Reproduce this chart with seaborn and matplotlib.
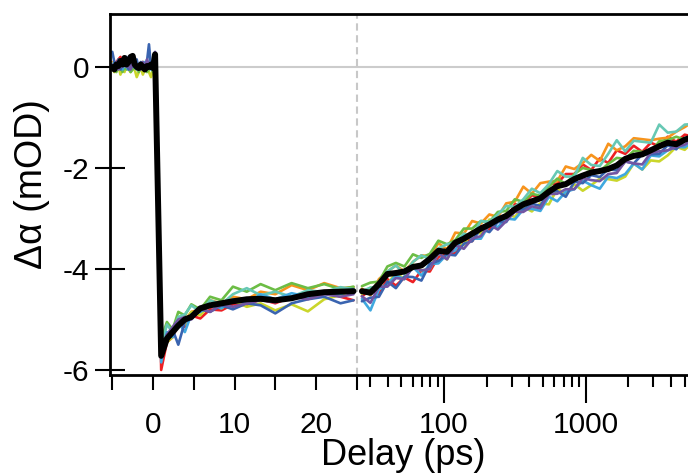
import numpy as np
import pandas as pd
import matplotlib
matplotlib.use("Agg")
import matplotlib.pyplot as plt
import seaborn as sns

# ---------------- data ----------------
t_pre = [-5.0, -4.75, -4.5, -4.25, -4.0, -3.75, -3.5, -3.25, -3.0, -2.75, -2.5,
         -2.25, -2.0, -1.75, -1.5, -1.25, -1.0, -0.75, -0.5, -0.25, 0.0, 0.25]
t_lin = [1.0, 1.7, 2.4, 3.1, 3.9, 4.7, 5.8, 7.0, 8.4, 9.8, 11.5, 13.2, 15.0,
         17.0, 19.0, 21.0, 23.0, 24.6]
t_log = [26.3, 30.2, 34.7, 39.8, 45.7, 52.5, 60.3, 69.2, 79.4, 91.2,
         105, 120, 138, 158, 182, 209, 240, 275, 316, 363,
         417, 479, 550, 631, 724, 832, 955, 1096, 1259, 1445,
         1660, 1905, 2188, 2512, 2884, 3311, 3802, 4365, 5012, 5754]

red = [0.05, 0.00, 0.10, 0.15, 0.20, 0.05, 0.10, 0.00, 0.05, 0.10, 0.00, -0.05, 0.05, 0.00, -0.05, 0.05, 0.00, -0.05, 0.05, 0.00, 0.05, 0.20,
       -6.00, -5.45, -5.35, -5.10, -5.15, -4.92, -4.98, -4.80, -4.82, -4.70, -4.72, -4.60, -4.68, -4.55, -4.58, -4.45, -4.55, -4.62,
       -4.54, -4.42, -4.50, -4.20, -4.33, -4.17, -4.26, -4.03, -4.05, -3.76,
       -3.71, -3.68, -3.40, -3.45, -3.15, -3.22, -2.97, -3.03, -2.72, -2.72,
       -2.54, -2.58, -2.32, -2.31, -2.12, -2.12, -1.93, -2.04, -1.81, -1.90,
       -1.65, -1.72, -1.56, -1.68, -1.50, -1.57, -1.38, -1.48, -1.34, -1.38]
orange = [0.10, 0.05, 0.00, 0.10, 0.05, 0.15, 0.00, 0.10, 0.05, 0.00, 0.10, 0.05, -0.05, 0.05, 0.00, 0.10, 0.05, 0.00, -0.05, 0.05, 0.00, 0.15,
          -5.60, -5.30, -5.22, -5.00, -5.02, -4.85, -4.80, -4.62, -4.68, -4.55, -4.60, -4.45, -4.50, -4.32, -4.42, -4.28, -4.38, -4.36,
          -4.39, -4.52, -4.20, -4.05, -3.93, -4.05, -3.86, -3.73, -3.75, -3.49,
          -3.61, -3.28, -3.30, -3.05, -3.10, -2.92, -2.97, -2.70, -2.67, -2.37,
          -2.51, -2.30, -2.27, -2.26, -1.97, -2.02, -1.90, -1.74, -1.86, -1.52,
          -1.65, -1.57, -1.41, -1.43, -1.45, -1.42, -1.40, -1.28, -1.19, -1.08]
yellow = [0.00, -0.10, -0.05, 0.05, -0.15, 0.00, -0.10, 0.05, -0.05, -0.10, 0.00, -0.05, -0.20, -0.10, 0.00, -0.15, -0.05, 0.00, -0.10, -0.20, -0.05, 0.10,
          -5.70, -5.45, -5.35, -5.05, -5.10, -4.85, -4.92, -4.70, -4.78, -4.62, -4.75, -4.68, -4.82, -4.70, -4.84, -4.60, -4.52, -4.40,
          -4.49, -4.37, -4.40, -4.30, -4.08, -4.20, -3.91, -4.03, -4.00, -3.69,
          -3.81, -3.48, -3.52, -3.25, -3.30, -3.02, -3.07, -2.90, -2.97, -2.77,
          -2.86, -2.70, -2.72, -2.41, -2.52, -2.32, -2.45, -2.34, -2.21, -2.22,
          -2.25, -2.17, -1.91, -2.03, -1.85, -1.87, -1.75, -1.58, -1.64, -1.48]
green = [-0.05, 0.05, -0.10, 0.00, 0.05, -0.10, 0.00, -0.05, 0.05, -0.10, -0.05, 0.00, 0.05, -0.10, 0.00, -0.05, 0.05, -0.10, -0.05, 0.00, -0.10, 0.05,
         -5.40, -5.05, -5.20, -4.85, -4.92, -4.70, -4.80, -4.55, -4.62, -4.35, -4.45, -4.30, -4.42, -4.28, -4.38, -4.30, -4.40, -4.35,
         -4.34, -4.27, -4.25, -3.95, -3.88, -3.95, -3.71, -3.78, -3.70, -3.44,
         -3.51, -3.43, -3.20, -3.20, -3.05, -3.07, -2.87, -2.85, -2.62, -2.67,
         -2.51, -2.55, -2.37, -2.21, -2.32, -2.12, -2.00, -2.04, -2.06, -1.92,
         -1.80, -1.82, -1.66, -1.68, -1.70, -1.47, -1.45, -1.38, -1.44, -1.33]
teal = [0.05, 0.10, 0.00, 0.05, 0.00, 0.10, 0.05, 0.00, 0.15, 0.05, 0.00, 0.10, 0.05, 0.00, 0.05, 0.10, 0.00, 0.05, 0.00, 0.10, 0.05, 0.20,
        -5.55, -5.10, -5.25, -4.95, -4.90, -4.72, -4.85, -4.62, -4.70, -4.50, -4.38, -4.52, -4.45, -4.55, -4.42, -4.46, -4.36, -4.40,
        -4.44, -4.37, -4.35, -4.05, -3.93, -4.10, -3.86, -3.73, -3.80, -3.59,
        -3.51, -3.48, -3.30, -3.35, -3.05, -3.07, -2.92, -2.75, -2.77, -2.62,
        -2.41, -2.50, -2.32, -2.06, -2.17, -2.17, -1.80, -1.94, -1.96, -1.72,
        -1.45, -1.67, -1.46, -1.48, -1.50, -1.14, -1.30, -1.28, -1.14, -1.13]
sky = [0.00, 0.05, -0.05, 0.10, 0.00, -0.05, 0.05, 0.00, -0.05, 0.05, 0.10, 0.00, -0.05, 0.05, 0.00, -0.05, 0.10, 0.00, 0.05, -0.05, 0.00, 0.15,
       -5.85, -5.25, -5.35, -5.05, -5.25, -4.90, -4.85, -4.72, -4.78, -4.60, -4.68, -4.50, -4.60, -4.48, -4.55, -4.45, -4.50, -4.40,
       -4.59, -4.82, -4.40, -4.30, -4.13, -4.20, -3.96, -4.13, -3.90, -3.89,
       -3.71, -3.63, -3.35, -3.40, -3.40, -3.12, -3.17, -3.00, -3.02, -2.82,
       -2.81, -2.85, -2.57, -2.66, -2.47, -2.42, -2.25, -2.34, -2.41, -2.17,
       -2.20, -2.12, -1.91, -2.03, -1.75, -1.77, -1.65, -1.58, -1.59, -1.48]
blue = [0.30, 0.10, 0.00, 0.15, -0.05, 0.10, 0.05, 0.20, -0.05, 0.10, 0.00, 0.05, 0.15, -0.05, 0.10, 0.00, 0.05, 0.10, 0.45, 0.00, 0.10, 0.25,
        -5.75, -5.30, -5.20, -5.50, -5.05, -4.98, -4.80, -4.85, -4.72, -4.80, -4.68, -4.72, -4.88, -4.68, -4.60, -4.55, -4.68, -4.62,
        -4.64, -4.57, -4.55, -4.25, -4.38, -4.15, -4.16, -4.23, -3.90, -3.84,
        -3.71, -3.73, -3.50, -3.45, -3.20, -3.27, -3.07, -3.07, -2.82, -2.82,
        -2.71, -2.75, -2.47, -2.46, -2.57, -2.27, -2.30, -2.14, -2.18, -2.02,
        -2.05, -1.87, -1.91, -1.73, -1.73, -1.72, -1.55, -1.63, -1.44, -1.43]
purple = [0.05, 0.00, 0.10, -0.05, 0.05, 0.00, 0.10, 0.00, 0.05, -0.05, 0.10, 0.15, 0.00, 0.05, -0.05, 0.10, 0.00, 0.15, 0.05, 0.00, 0.10, 0.30,
          -5.60, -5.30, -5.15, -5.00, -4.95, -5.00, -4.78, -4.85, -4.70, -4.75, -4.68, -4.62, -4.66, -4.55, -4.60, -4.50, -4.55, -4.50,
          -4.54, -4.67, -4.35, -4.35, -4.18, -4.20, -3.96, -4.03, -4.00, -3.69,
          -3.81, -3.53, -3.60, -3.40, -3.35, -3.12, -3.22, -3.05, -2.87, -2.87,
          -2.76, -2.80, -2.52, -2.51, -2.42, -2.42, -2.20, -2.24, -2.26, -2.12,
          -2.10, -1.87, -1.91, -1.93, -1.70, -1.67, -1.65, -1.58, -1.54, -1.43]
average = [0.00, -0.05, 0.05, 0.02, 0.12, 0.05, 0.18, 0.05, 0.10, 0.20, 0.22, 0.05, 0.00, -0.02, 0.05, 0.00, -0.05, 0.02, 0.00, 0.05, -0.02, 0.25,
           -5.72, -5.38, -5.25, -5.12, -5.00, -4.95, -4.78, -4.72, -4.68, -4.64, -4.60, -4.59, -4.62, -4.58, -4.50, -4.46, -4.45, -4.44,
           -4.44, -4.47, -4.30, -4.10, -4.08, -4.05, -3.96, -3.93, -3.80, -3.64,
           -3.66, -3.48, -3.40, -3.30, -3.20, -3.12, -3.02, -2.95, -2.82, -2.72,
           -2.66, -2.60, -2.47, -2.36, -2.32, -2.22, -2.15, -2.09, -2.06, -2.02,
           -1.95, -1.82, -1.76, -1.73, -1.65, -1.57, -1.50, -1.53, -1.44, -1.38]

scan_names = ["red", "orange", "yellow", "green", "teal", "sky", "blue", "purple"]
scan_colors = ["#ed2024", "#f7941d", "#cad62b", "#6cbd45", "#67c8b4", "#3fa8df", "#3a64b0", "#7256a3"]
x_major = [0, 10, 20, 100, 1000]
x_major_labels = ["0", "10", "20", "100", "1000"]
x_minor = [-5, 5, 15, 25, 30, 40, 50, 60, 70, 80, 90,
           200, 300, 400, 500, 600, 700, 800, 900, 2000, 3000, 4000, 5000]
y_ticks = [0, -2, -4, -6]
y_tick_labels = ["0", "-2", "-4", "-6"]

# ---------------- build tidy frame ----------------
delay = t_pre + t_lin + t_log
BREAK = 25.0
rows = []
for name, vals in zip(scan_names, [red, orange, yellow, green, teal, sky, blue, purple]):
    assert len(vals) == len(delay), (name, len(vals))
    for t, v in zip(delay, vals):
        rows.append({"delay": t, "signal": v, "scan": name, "seg": 0 if t <= BREAK else 1})
df = pd.DataFrame(rows)
assert len(average) == len(delay)
df_avg = pd.DataFrame({"delay": delay, "signal": average,
                       "seg": [0 if t <= BREAK else 1 for t in delay]})

# ---------------- split linear / log axis ----------------
T0 = 24.2
K = 17.37


def fwd(x):
    x = np.asarray(x, dtype=float)
    with np.errstate(divide="ignore", invalid="ignore"):
        lg = BREAK + K * np.log10(np.maximum(x, 1e-9) / T0)
    return np.where(x <= BREAK, x, lg)


def inv(y):
    y = np.asarray(y, dtype=float)
    with np.errstate(over="ignore"):
        ex = T0 * 10.0 ** ((y - BREAK) / K)
    return np.where(y <= BREAK, y, ex)


sns.set_style("ticks")
plt.rcParams["font.family"] = ["Liberation Sans", "DejaVu Sans"]
plt.rcParams["axes.unicode_minus"] = False
plt.rcParams["text.color"] = "black"
plt.rcParams["axes.labelcolor"] = "black"

fig = plt.figure(figsize=(6.88, 4.75), dpi=100)
ax = fig.add_axes([110 / 688, 1 - 375 / 475, 578 / 688, 361 / 475])
ax.set_xscale("function", functions=(fwd, inv))

ax.axhline(0, color="#cccccc", lw=1.5, zorder=1)
ax.axvline(BREAK, color="#c8c8c8", lw=1.5, ls=(0, (3.5, 2.2)), zorder=1)

sns.lineplot(data=df, x="delay", y="signal", hue="scan", units="seg",
             estimator=None, palette=dict(zip(scan_names, scan_colors)),
             hue_order=scan_names, lw=1.9, legend=False, ax=ax, zorder=2)
sns.lineplot(data=df_avg, x="delay", y="signal", units="seg", estimator=None,
             color="black", lw=4.3, legend=False, ax=ax, zorder=3)

ax.set_xlim(-5.28, 5287)
ax.set_ylim(-6.1, 1.05)

ax.set_xticks(x_major, labels=x_major_labels)
ax.set_xticks(x_minor, minor=True)
ax.tick_params(axis="x", which="both", direction="out", width=1.5,
               length=10.8, pad=15, labelsize=21.5, colors="black")
for i, tk in enumerate(ax.xaxis.get_major_ticks()):
    if x_major[i] >= 100:
        tk.tick1line.set_markersize(20)
for i, tk in enumerate(ax.xaxis.get_minor_ticks()):
    if i < len(x_minor) and x_minor[i] > BREAK:
        tk.tick1line.set_markersize(8.6)

ax.set_yticks(y_ticks, labels=y_tick_labels)
ax.tick_params(axis="y", direction="inout", width=1.5, length=21, pad=4.5,
               labelsize=21.5, colors="black")

for side in ["top", "left", "bottom"]:
    ax.spines[side].set_linewidth(2)
    ax.spines[side].set_color("black")
ax.spines["right"].set_visible(False)

ax.set_xlabel("Delay (ps)", fontsize=26, color="black")
ax.xaxis.set_label_coords(0.507, -0.175)
ax.set_ylabel("Δα (mOD)", fontsize=27, color="black")
ax.yaxis.set_label_coords(-0.104, 0.53)

fig.savefig("out.png", dpi=100)
